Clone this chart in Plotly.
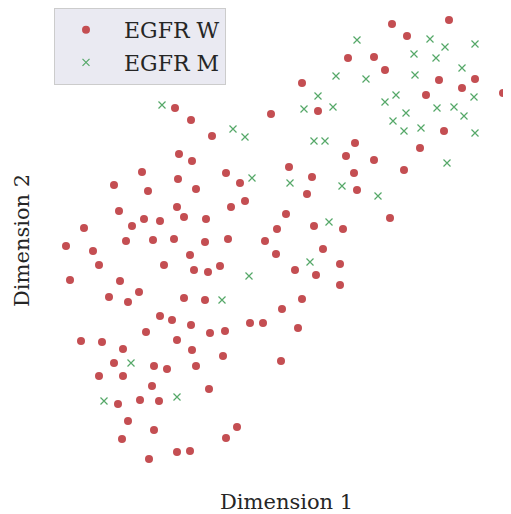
import plotly.graph_objects as go

# Points (Dimension 1 = horizontal, Dimension 2 = vertical, arbitrary units)
w_dim1 = [392, 449, 407, 348, 374, 385, 302, 439, 475, 462, 426, 503, 507, 271, 318, 444, 420, 374, 404, 346,
          354, 355, 289, 312, 307, 357, 286, 390, 277, 314, 343, 265, 323, 276, 295, 316, 340, 340, 302, 282,
          263, 298, 281,
          175, 191, 212, 179, 192, 142, 178, 226, 240, 114, 148, 196, 245, 231, 119, 177, 184, 144, 160, 206,
          132, 84, 228, 174, 153, 126, 205, 66, 93, 190, 99, 164, 194, 208, 220, 70, 120, 139, 109, 128, 184,
          205, 160, 172, 191, 250, 146, 210, 225, 81, 102, 177, 192, 123, 223, 114, 154, 167, 196, 99, 123,
          152, 209, 118, 140, 159, 128, 154, 122, 237, 226, 149, 177, 190]
w_dim2_px = [24, 20, 36, 58, 57, 70, 83, 80, 79, 88, 95, 93, 109, 114, 111, 131, 148, 160, 170, 156,
             173, 143, 167, 177, 194, 190, 214, 218, 229, 226, 229, 241, 249, 254, 270, 275, 264, 285, 299, 309,
             323, 328, 361,
             108, 120, 136, 154, 161, 172, 179, 173, 183, 185, 191, 189, 201, 207, 211, 207, 217, 219, 221, 219,
             226, 228, 239, 239, 240, 241, 242, 246, 251, 255, 265, 265, 270, 272, 266, 280, 281, 292, 297, 302, 298,
             300, 316, 320, 325, 323, 332, 333, 331, 341, 342, 340, 350, 349, 356, 363, 366, 369, 366, 376, 376,
             386, 389, 404, 400, 401, 421, 430, 439, 427, 438, 459, 452, 451]

m_dim1 = [162, 233, 245, 357, 430, 445, 475, 414, 436, 462, 336, 366, 415, 318, 396, 385, 474, 304, 333, 437,
          454, 464, 406, 393, 404, 421, 475, 314, 325, 447, 252, 290, 342, 378, 329, 310, 249, 222, 131, 104, 177]
m_dim2_px = [105, 129, 137, 40, 39, 47, 44, 54, 58, 68, 76, 79, 75, 96, 95, 102, 97, 109, 107, 108,
             107, 116, 113, 121, 131, 128, 133, 141, 141, 163, 178, 183, 186, 196, 222, 262, 276, 300, 363, 401, 397]

H = 514
w_dim2 = [H - v for v in w_dim2_px]
m_dim2 = [H - v for v in m_dim2_px]

RED = "#C44E52"
GREEN = "#55A868"
TXT = "#262626"
FONT = "DejaVu Serif"

fig = go.Figure()
fig.add_trace(go.Scatter(
    x=w_dim1, y=w_dim2, mode="markers", name="\u00a0EGFR W",
    marker=dict(color=RED, size=8, line=dict(width=0)),
    legendgroup="w",
))
fig.add_trace(go.Scatter(
    x=m_dim1, y=m_dim2, mode="markers", name="\u00a0EGFR M",
    marker=dict(color=GREEN, size=7, symbol="x-thin-open", line=dict(color=GREEN, width=1.2)),
    legendgroup="m",
))

# page body has an 8px margin: figure is 8px smaller and shifted
fig.update_layout(
    width=503, height=506,
    margin=dict(l=53, r=0, t=0, b=32),
    paper_bgcolor="white", plot_bgcolor="white",
    font=dict(family=FONT, color=TXT, size=22),
    showlegend=True,
    legend=dict(
        x=-7 / 450, y=1 - 0 / 474, xref="paper", yref="paper",
        xanchor="left", yanchor="top",
        bgcolor="#EAEAF2", bordercolor="#CCCCCC", borderwidth=1,
        font=dict(family=FONT, size=22, color=TXT),
        tracegroupgap=1, itemwidth=52,
    ),
    xaxis=dict(range=[61, 511], showgrid=False, zeroline=False, showticklabels=False,
               ticks="", showline=False),
    yaxis=dict(range=[32, 506], showgrid=False, zeroline=False, showticklabels=False,
               ticks="", showline=False),
    annotations=[
        dict(text="Dimension 1", xref="paper", yref="paper", x=0.5, y=0,
             xanchor="center", yanchor="top", yshift=-6, showarrow=False,
             font=dict(family=FONT, size=21, color=TXT)),
        dict(text="Dimension 2", xref="paper", yref="paper", x=0, y=0.5,
             xanchor="left", yanchor="middle", xshift=-53, yshift=4, textangle=-90, showarrow=False,
             font=dict(family=FONT, size=21, color=TXT)),
    ],
)

fig.write_html("out.html")
